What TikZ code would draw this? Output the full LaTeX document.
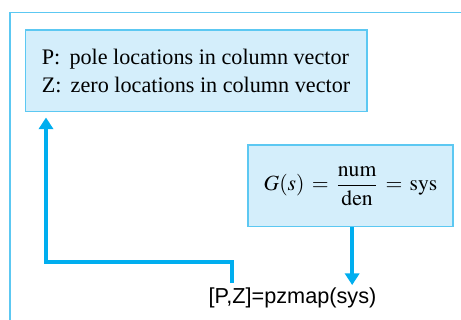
\documentclass[tikz,border=0pt]{standalone}
\usepackage{mathptmx}
\usepackage{fontspec}
\setmainfont{Liberation Serif}
\setsansfont{Liberation Sans}
\usetikzlibrary{arrows.meta}
\definecolor{boxfill}{HTML}{D4EEFB}
\definecolor{boxline}{HTML}{5CC8F2}
\definecolor{linkcyan}{HTML}{00AEEF}
\begin{document}
\begin{tikzpicture}[x=0.6pt, y=-0.6pt,
  infobox/.style={draw=boxline,fill=boxfill,line width=0.8pt,inner sep=0pt,minimum width=205pt,minimum height=49pt},
  link/.style={draw=linkcyan,line width=2.3pt,-{Triangle[width=8.5pt,length=7pt]}}]
\useasboundingbox (0,0) rectangle (461,320);
\draw[boxline,line width=0.9pt] (461,12.5) -- (10,12.5) -- (10,320);
\node[infobox,font=\fontsize{13.3}{16.4}\selectfont,align=left] (locs) at (196,71) {P:\,\ pole locations in column vector\\ Z:\,\ zero locations in column vector};
\node[infobox,minimum width=123pt,font=\fontsize{13}{15}\selectfont] (tf) at (350.5,186) {$\displaystyle G(s)\,=\,\frac{\mathrm{num}}{\mathrm{den}}\,=\,\mathrm{sys}$};
\node[font=\sffamily\fontsize{13}{15}\selectfont,inner sep=1.5pt] (pz) at (292.5,298) {[P,Z]=pzmap(sys)};
\coordinate (pzstart) at (232,283);
\coordinate (turn) at (46,262);
\draw[link] ([xshift=1pt]tf.south) -- ([xshift=1pt]tf.south |- pz.north);
\draw[link,shorten >=3pt] (pzstart) |- (turn) -- (turn |- locs.south);
\end{tikzpicture}
\end{document}
